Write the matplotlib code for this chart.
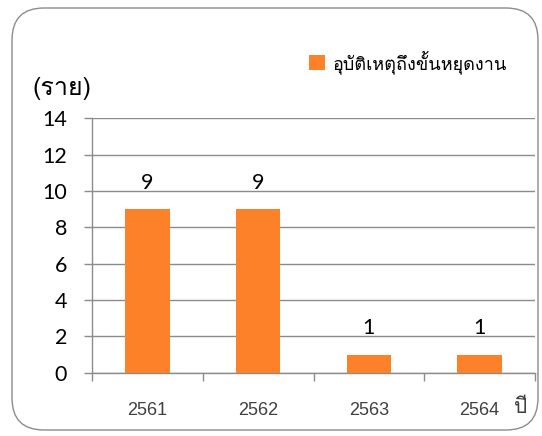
import matplotlib
matplotlib.use('Agg')
import matplotlib.pyplot as plt
from matplotlib import font_manager
from matplotlib.ft2font import FT2Font
from matplotlib.patches import FancyBboxPatch
from matplotlib.transforms import IdentityTransform

years = ['2561', '2562', '2563', '2564']
cases = [9, 9, 1, 1]
series_name = 'อุบัติเหตุถึงขั้นหยุดงาน'
y_unit = '(ราย)'
x_unit = 'ปี'
y_ticks = [0, 2, 4, 6, 8, 10, 12, 14]

BAR = '#FD8128'
GRID = '#8C8C8C'


def thai_family():
    # pick the first installed face that really has Thai glyphs
    found = []
    for f in font_manager.fontManager.ttflist:
        try:
            if ord('ร') in FT2Font(f.fname).get_charmap():
                found.append(f.name)
        except Exception:
            pass
    return found[0] if found else 'DejaVu Sans'


def main():
    thai = [thai_family(), 'DejaVu Sans']
    W, H = 542, 436
    fig = plt.figure(figsize=(W / 100, H / 100), dpi=100)
    fig.patch.set_facecolor('white')

    # rounded frame round the whole chart, in pixels
    frame = FancyBboxPatch((12, 6), 526, 422, boxstyle='round,pad=0,rounding_size=32',
                           transform=IdentityTransform(), facecolor='none',
                           edgecolor='#8C8C8C', lw=1.0, zorder=-1)
    fig.patches.append(frame)

    ax = fig.add_axes([92 / W, 1 - 372.7 / H, (535 - 92) / W, (372.7 - 118.3) / H])
    ax.set_facecolor('none')

    x = list(range(len(years)))
    bars = ax.bar(x, cases, width=0.4, color=BAR, zorder=3, label=series_name)
    for xi, v in zip(x, cases):
        ax.annotate(str(v), (xi, v), xytext=(0, 14.5), textcoords='offset points',
                    ha='center', va='baseline', fontsize=15.5, family='Lato', color='black')

    ax.set_xlim(-0.5, len(years) - 0.5)
    ax.set_ylim(0, 14)
    ax.set_yticks(y_ticks)
    ax.set_yticklabels([str(t) for t in y_ticks], fontsize=15.5, family='Lato')
    ax.yaxis.grid(True, color=GRID, lw=1.0, zorder=0)
    ax.tick_params(axis='y', length=6, width=1.0, color=GRID, pad=12)

    ax.set_xticks([i - 0.5 for i in range(len(years) + 1)])
    ax.set_xticklabels([])
    ax.set_xticks(x, minor=True)
    ax.set_xticklabels(years, minor=True, fontsize=13, family='Liberation Sans', color='#404040')
    ax.tick_params(axis='x', which='major', length=6, width=1.0, color=GRID, direction='out')
    ax.tick_params(axis='x', which='minor', length=0, pad=21)

    for s in ['top', 'right']:
        ax.spines[s].set_visible(False)
    for s in ['left', 'bottom']:
        ax.spines[s].set_color(GRID)
        ax.spines[s].set_linewidth(1.0)

    fig.text(33 / W, 1 - 88 / H, y_unit, ha='left', va='center', fontsize=18, family=thai)
    fig.text(521 / W, 1 - 407 / H, x_unit, ha='center', va='center', fontsize=15, family=thai,
             color='#404040')

    ax.legend(handles=[bars], loc='center left', bbox_to_anchor=(300 / W, 1 - 62 / H),
              bbox_transform=fig.transFigure, frameon=False, handlelength=0.9,
              handleheight=0.9, handletextpad=0.4, borderpad=0, prop={'family': thai, 'size': 13})

    fig.savefig('out.png', dpi=100)


if __name__ == '__main__':
    main()
